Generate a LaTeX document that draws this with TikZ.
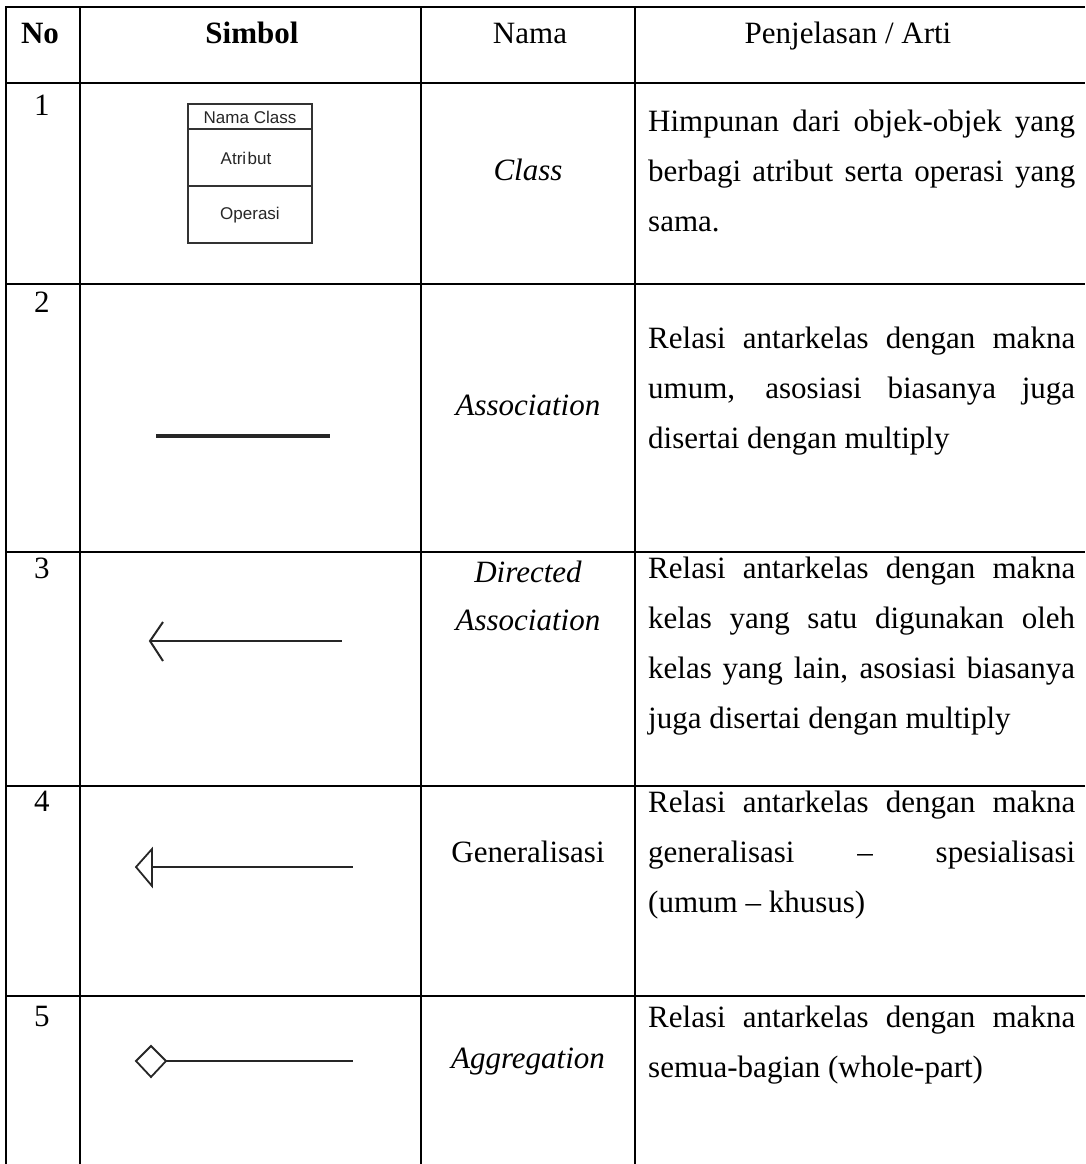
\documentclass[tikz,border=0pt]{standalone}
\usepackage{fontspec}
\setmainfont{Liberation Serif}
\newfontfamily\umlsans{Liberation Sans}
\tolerance=10000
\hbadness=10000
\begin{document}
\begin{tikzpicture}[x=1pt,y=-1pt,
  grid/.style={line width=2pt,black},
  hdr/.style={font=\fontsize{31}{36}\selectfont\bfseries,anchor=base,inner sep=0},
  hdrn/.style={font=\fontsize{31}{36}\selectfont,anchor=base,inner sep=0},
  num/.style={font=\fontsize{31}{36}\selectfont,anchor=base west,inner sep=0},
  nm/.style={font=\fontsize{31}{48}\selectfont,anchor=base,inner sep=0,align=center},
  desc/.style={font=\fontsize{31}{50}\selectfont,anchor=base west,inner sep=0,text width=427pt,align=justify},
  sym/.style={line width=2.8pt,draw=black!85},
  clsbox/.style={line width=1.5pt,draw=black!80},
  clstxt/.style={font=\umlsans\fontsize{17}{20}\selectfont,inner sep=0,text=black!85}
]
\useasboundingbox (0,0) rectangle (1085,1164);
% grid
\foreach \yy in {7.5,83,284,552,786,996} \draw[grid] (5,\yy) -- (1085,\yy);
\foreach \xx in {6,80,421,635} \draw[grid] (\xx,7.5) -- (\xx,1164);
% header
\node[hdr] (hNo) at (40,44) {No};
\node[hdr] (hSim) at (252,44) {Simbol};
\node[hdrn] (hNama) at (530,44) {Nama};
\node[hdrn] (hPen) at (848,44) {Penjelasan / Arti};
% numbers
\node[num] (n1) at (34,115) {1};
\node[num] (n2) at (34,312) {2};
\node[num] (n3) at (34,578) {3};
\node[num] (n4) at (34,811) {4};
\node[num] (n5) at (34,1026) {5};
% names
\node[nm] (c1) at (528,180) {\itshape Class};
\node[nm] (c2) at (528,415) {\itshape Association};
\node[nm] (c3) at (528,630) {\itshape Directed\\\itshape Association};
\node[nm] (c4) at (528,862) {Generalisasi};
\node[nm] (c5) at (528,1068) {\itshape Aggregation};
% descriptions
\node[desc] (d1) at (648,131) {Himpunan dari objek-objek yang\linebreak berbagi atribut serta operasi yang\linebreak sama.};
\node[desc] (d2) at (648,348) {Relasi antarkelas dengan makna\linebreak umum, asosiasi biasanya juga\linebreak disertai dengan multiply};
\node[desc] (d3) at (648,578) {Relasi antarkelas dengan makna\linebreak kelas yang satu digunakan oleh\linebreak kelas yang lain, asosiasi biasanya\linebreak juga disertai dengan multiply};
\node[desc] (d4) at (648,812) {Relasi antarkelas dengan makna\linebreak generalisasi \ – \ spesialisasi\linebreak (umum – khusus)};
\node[desc] (d5) at (648,1027) {Relasi antarkelas dengan makna\linebreak semua-bagian (whole-part)};
% class symbol
\draw[clsbox] (188,104) rectangle (312,243);
\draw[clsbox] (188,129) -- (312,129);
\draw[clsbox] (188,186) -- (312,186);
\node[clstxt] (cn) at (250,117) {Nama Class};
\node[clstxt] (ca) at (246,158) {Atri\hspace{1.5pt}but};
\node[clstxt] (co) at (250,215) {Operasi};
% association
\coordinate (a1) at (156,436);
\coordinate (a2) at (330,436);
\draw[sym,line width=3.2pt] (a1) -- (a2);
% directed association
\coordinate (da1) at (150,641);
\coordinate (da2) at (342,641);
\coordinate (daw1) at (163,622);
\coordinate (daw2) at (163,661);
\draw[sym] (da1) -- (da2);
\draw[sym,line width=2pt,line join=miter] (daw1) -- (da1) -- (daw2);
% generalisation
\coordinate (g0) at (136,867);
\coordinate (gt) at (152,849);
\coordinate (gb) at (152,886);
\coordinate (gbase) at (152,867);
\coordinate (g2) at (353,867);
\draw[sym] (gbase) -- (g2);
\draw[sym,line width=1.8pt] (gt) -- (g0) -- (gb) -- cycle;
% aggregation
\coordinate (ag0) at (136,1061);
\coordinate (agt) at (151,1046);
\coordinate (agr) at (166,1061);
\coordinate (agb) at (151,1077);
\coordinate (ag2) at (353,1061);
\draw[sym] (agr) -- (ag2);
\draw[sym,line width=1.8pt] (ag0) -- (agt) -- (agr) -- (agb) -- cycle;
\end{tikzpicture}
\end{document}
